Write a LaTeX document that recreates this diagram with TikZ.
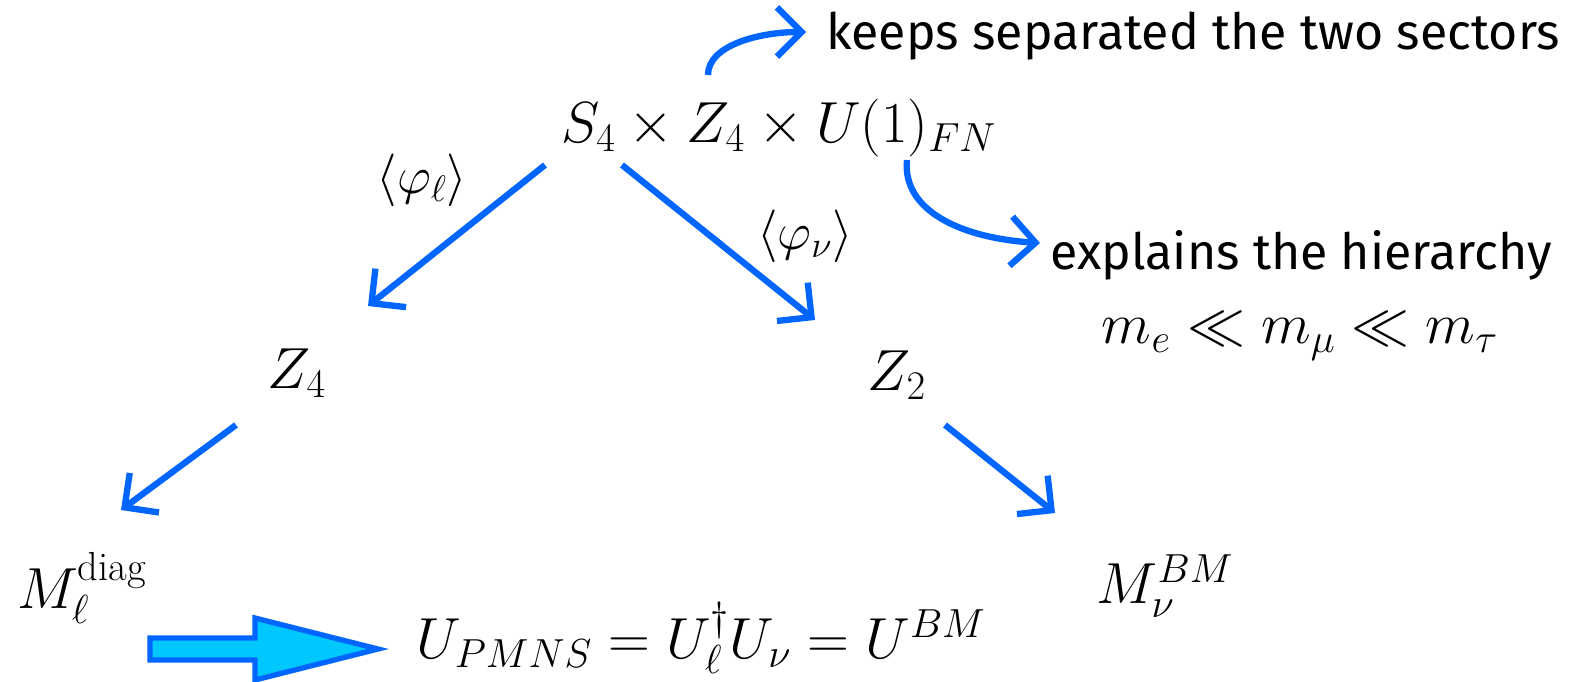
\RequirePackage{fix-cm}
\documentclass[tikz,border=0pt]{standalone}
\usepackage{amsmath}
\usepackage{fontspec}
\newfontfamily\comicfont{Fira Sans}
\usetikzlibrary{arrows.meta}
\definecolor{arrblue}{RGB}{0,102,255}
\definecolor{fillcyan}{RGB}{0,200,255}
\tikzset{
  mathlbl/.style={inner sep=0pt, font=\fontsize{33}{39}\selectfont},
  smalllbl/.style={inner sep=0pt, font=\fontsize{30}{36}\selectfont},
  comic/.style={inner sep=0pt, anchor=west, font=\comicfont\fontsize{28.5}{34}\selectfont},
  bluearrow/.style={draw=arrblue, line width=3.6pt, -{Straight Barb[length=14pt,width=28pt,line width=3.6pt]}},
}
\begin{document}
\begin{tikzpicture}[x=0.02cm,y=-0.02cm]
\useasboundingbox (0,0) rectangle (1577,682);
% nodes
\node[mathlbl] (top) at (779,128) {$S_4\times Z_4\times U(1)_{FN}$};
\node[comic] (keeps) at (826,36) {keeps separated the two sectors};
\node[comic] (expl) at (1050,255) {explains the hierarchy};
\node[mathlbl] (mass) at (1300,336) {$m_e \ll m_\mu \ll m_\tau$};
\node[smalllbl] (phil) at (422,180) {$\langle\varphi_\ell\rangle$};
\node[smalllbl] (phin) at (805,236) {$\langle\varphi_\nu\rangle$};
\node[mathlbl] (z4) at (297,373) {$Z_4$};
\node[mathlbl] (z2) at (897,375) {$Z_2$};
\node[mathlbl] (ml) at (82,588) {$M_\ell^{\mathrm{diag}}$};
\node[mathlbl] (mn) at (1165,586) {$M_\nu^{BM}$};
\node[mathlbl] (upmns) at (701,638) {$U_{PMNS}=U_\ell^\dagger U_\nu = U^{BM}$};
% connector end points
\coordinate (a1s) at (545,165);
\coordinate (a1e) at (368,306);
\coordinate (a2s) at (622,165);
\coordinate (a2e) at (815,320);
\coordinate (a3s) at (236,425);
\coordinate (a3e) at (121,510);
\coordinate (a4s) at (945,425);
\coordinate (a4e) at (1055,513);
\coordinate (c1s) at (708,75);
\coordinate (c1e) at (806,32);
\coordinate (c2s) at (907,160);
\coordinate (c2e) at (1040,243);
% arrows
\draw[bluearrow] (a1s) -- (a1e);
\draw[bluearrow] (a2s) -- (a2e);
\draw[bluearrow] (a3s) -- (a3e);
\draw[bluearrow] (a4s) -- (a4e);
\draw[bluearrow] (c1s) .. controls (708,45) and (760,32) .. (c1e);
\draw[bluearrow] (c2s) .. controls (902,210) and (960,238) .. (c2e);
% big arrow
\draw[draw=arrblue, fill=fillcyan, line width=3pt, line join=miter]
  (150,638) -- (255,638) -- (255,618) -- (378,649) -- (255,680) -- (255,660) -- (150,660) -- cycle;
\end{tikzpicture}
\end{document}
